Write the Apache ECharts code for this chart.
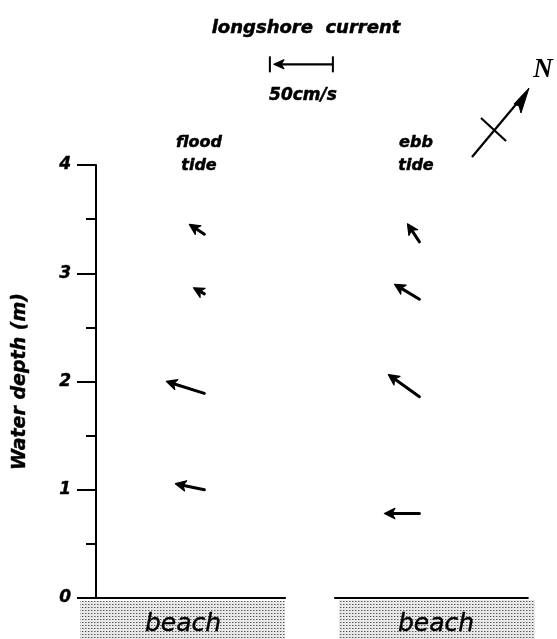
<!DOCTYPE html>
<html>
<head>
<meta charset="utf-8">
<style>
  html, body { margin: 0; padding: 0; background: #fff; }
  #chart { width: 557px; height: 639px; }
</style>
<script src="https://cdn.jsdelivr.net/npm/echarts@6/dist/echarts.min.js"></script>
</head>
<body>
<div id="chart"></div>
<script>
// Depth axis (m)
const depthTicks = [0, 1, 2, 3, 4];

// Flood tide profile: measurement depth (m) and current components (cm/s)
const floodDepth = [3.36, 2.81, 1.89, 1.00];
const floodU = [-11.9, -8.7, -30.2, -23.0];   // longshore (negative = towards left)
const floodV = [7.9, 4.8, 9.5, 4.8];          // cross-shore on the page

// Ebb tide profile
const ebbDepth = [3.29, 2.76, 1.86, 0.78];
const ebbU = [-9.5, -19.8, -24.6, -27.8];
const ebbV = [14.3, 11.9, 17.5, 0.0];

// Reference vector for the speed scale
const scaleSpeed = 50;      // cm/s
const scaleLabel = '50cm/s';

// Horizontal axes share one speed scale (px per cm/s)
const PX_PER_CMS = 1.26;
const floodXRange = [0, 150];
const ebbXRange = [0, 153];
const floodStationX = 86;
const ebbStationX = 67;
const scaleAnchor = [138, 4.93];   // left end of the speed scale, in panel-1 units

const SANS = 'DejaVu Sans, Verdana, sans-serif';
const BOLD_ITALIC = { fontFamily: SANS, fontStyle: 'italic', fontWeight: 'bold' };
const HEAVY = { stroke: '#000', lineWidth: 0.5 };

function arrowShape(x0, y0, x1, y1, headLen, headHalf, lw) {
  const dx = x1 - x0, dy = y1 - y0;
  const L = Math.sqrt(dx * dx + dy * dy) || 1;
  const ux = dx / L, uy = dy / L;
  const bx = x1 - ux * headLen, by = y1 - uy * headLen;
  const px = -uy, py = ux;
  return [
    { type: 'line', shape: { x1: x0, y1: y0, x2: bx + ux * 2, y2: by + uy * 2 },
      style: { stroke: '#000', lineWidth: lw, lineCap: 'round' } },
    { type: 'polygon', shape: { points: [[x1, y1], [bx + px * headHalf, by + py * headHalf], [x1 - ux * headLen * 0.72, y1 - uy * headLen * 0.72], [bx - px * headHalf, by - py * headHalf]] },
      style: { fill: '#000', stroke: '#000', lineWidth: 1.2, lineJoin: 'round' } }
  ];
}

function vectorSeries(idx, stationX, depths, us, vs) {
  return {
    type: 'custom',
    xAxisIndex: idx, yAxisIndex: idx,
    clip: false,
    data: depths.map((d, i) => [stationX, d, us[i], vs[i]]),
    encode: { x: 0, y: 1 },
    renderItem: function (params, api) {
      const tail = api.coord([api.value(0), api.value(1)]);
      const k = api.size([1, 0])[0];
      const head = [tail[0] + api.value(2) * k, tail[1] - api.value(3) * k];
      return { type: 'group', children: arrowShape(tail[0], tail[1], head[0], head[1], 10.5, 5.2, 3) };
    }
  };
}

// Dotted screen used for the beach blocks
function beachPattern() {
  const c = document.createElement('canvas');
  c.width = 3; c.height = 3;
  const g = c.getContext('2d');
  g.fillStyle = '#e8e8e8'; g.fillRect(0, 0, 3, 3);
  g.fillStyle = '#5a5a5a'; g.fillRect(1, 1, 1, 1);
  g.fillStyle = '#a8a8a8'; g.fillRect(2, 1, 1, 1);
  return { image: c, repeat: 'repeat' };
}

const chart = echarts.init(document.getElementById('chart'), null, { renderer: 'canvas' });

const gridTop = 165, gridBottom = 41;
const floodLeft = 96, ebbLeft = 335;

const option = {
  animation: false,
  backgroundColor: '#fff',
  grid: [
    { left: floodLeft, top: gridTop, bottom: gridBottom, width: (floodXRange[1] - floodXRange[0]) * PX_PER_CMS },
    { left: ebbLeft, top: gridTop, bottom: gridBottom, width: (ebbXRange[1] - ebbXRange[0]) * PX_PER_CMS }
  ],
  xAxis: [
    { gridIndex: 0, type: 'value', min: floodXRange[0], max: floodXRange[1],
      axisLine: { show: true, onZero: false, lineStyle: { color: '#000', width: 2.2 } },
      axisTick: { show: false }, axisLabel: { show: false }, splitLine: { show: false } },
    { gridIndex: 1, type: 'value', min: ebbXRange[0], max: ebbXRange[1],
      axisLine: { show: true, onZero: false, lineStyle: { color: '#000', width: 2.2 } },
      axisTick: { show: false }, axisLabel: { show: false }, splitLine: { show: false } }
  ],
  yAxis: [
    { gridIndex: 0, type: 'value', min: depthTicks[0], max: depthTicks[depthTicks.length - 1], interval: 1,
      name: 'Water depth (m)', nameLocation: 'middle', nameRotate: 90, nameGap: 66,
      nameTextStyle: Object.assign({ fontSize: 19, color: '#000', textBorderColor: '#000', textBorderWidth: 0.4 }, BOLD_ITALIC),
      axisLine: { show: true, onZero: false, lineStyle: { color: '#000', width: 2 } },
      axisTick: { show: true, inside: false, length: 19, lineStyle: { color: '#000', width: 2 } },
      minorTick: { show: true, splitNumber: 2, length: 10, lineStyle: { color: '#000', width: 2 } },
      axisLabel: Object.assign({ fontSize: 17, color: '#000', margin: 25, textBorderColor: '#000', textBorderWidth: 0.4 }, BOLD_ITALIC),
      splitLine: { show: false } },
    { gridIndex: 1, type: 'value', min: depthTicks[0], max: depthTicks[depthTicks.length - 1],
      show: false, splitLine: { show: false } }
  ],
  series: [
    vectorSeries(0, floodStationX, floodDepth, floodU, floodV),
    vectorSeries(1, ebbStationX, ebbDepth, ebbU, ebbV),
    {
      // speed scale: end bars and a reference arrow
      type: 'custom', xAxisIndex: 0, yAxisIndex: 0, clip: false,
      data: [[scaleAnchor[0], scaleAnchor[1], scaleSpeed]],
      encode: { x: 0, y: 1 },
      renderItem: function (params, api) {
        const p0 = api.coord([api.value(0), api.value(1)]);
        const p1 = api.coord([api.value(0) + api.value(2), api.value(1)]);
        const children = [
          { type: 'line', shape: { x1: p0[0], y1: p0[1] - 8, x2: p0[0], y2: p0[1] + 8 }, style: { stroke: '#000', lineWidth: 2 } },
          { type: 'line', shape: { x1: p1[0], y1: p1[1] - 8, x2: p1[0], y2: p1[1] + 8 }, style: { stroke: '#000', lineWidth: 2 } }
        ].concat(arrowShape(p1[0], p1[1], p0[0] + 4, p0[1], 10, 4.5, 2.2));
        return { type: 'group', children: children };
      }
    }
  ],
  graphic: [
    { type: 'rect', shape: { x: 80, y: 601, width: 205, height: 40 }, style: { fill: beachPattern() }, z: 1 },
    { type: 'rect', shape: { x: 339, y: 600, width: 196, height: 41 }, style: { fill: beachPattern() }, z: 1 },
    { type: 'text', x: 183, y: 624, z: 10, style: Object.assign({ text: 'beach', fontSize: 25, fontStyle: 'italic', fontFamily: SANS, fill: '#000', align: 'center', verticalAlign: 'middle' }, { stroke: '#000', lineWidth: 0.4 }) },
    { type: 'text', x: 436, y: 624, z: 10, style: Object.assign({ text: 'beach', fontSize: 25, fontStyle: 'italic', fontFamily: SANS, fill: '#000', align: 'center', verticalAlign: 'middle' }, { stroke: '#000', lineWidth: 0.4 }) },
    { type: 'text', x: 306, y: 28, z: 10, style: Object.assign({ text: 'longshore  current', fontSize: 18, fill: '#000', align: 'center', verticalAlign: 'middle' }, BOLD_ITALIC, HEAVY) },
    { type: 'text', x: 303, y: 96, z: 10, style: Object.assign({ text: scaleLabel, fontSize: 17, fill: '#000', align: 'center', verticalAlign: 'middle' }, BOLD_ITALIC, HEAVY) },
    { type: 'text', x: 199, y: 154, z: 10, style: Object.assign({ text: 'flood\ntide', fontSize: 16, lineHeight: 23, fill: '#000', align: 'center', verticalAlign: 'middle' }, BOLD_ITALIC, HEAVY) },
    { type: 'text', x: 416, y: 154, z: 10, style: Object.assign({ text: 'ebb\ntide', fontSize: 16, lineHeight: 23, fill: '#000', align: 'center', verticalAlign: 'middle' }, BOLD_ITALIC, HEAVY) },
    // north arrow
    { type: 'line', shape: { x1: 472, y1: 157, x2: 523, y2: 96 }, style: { stroke: '#000', lineWidth: 2.2 } },
    { type: 'polygon', shape: { points: [[529, 88], [521, 113], [519, 106], [514, 104]] }, style: { fill: '#000', stroke: '#000', lineWidth: 1 } },
    { type: 'line', shape: { x1: 481, y1: 118, x2: 506, y2: 141 }, style: { stroke: '#000', lineWidth: 2.2 } },
    { type: 'text', x: 543, y: 70, z: 10, style: { text: 'N', fontSize: 27, fontStyle: 'italic', fontWeight: 'bold', fontFamily: 'Liberation Serif, Times New Roman, serif', fill: '#000', align: 'center', verticalAlign: 'middle' } }
  ]
};

chart.setOption(option);
</script>
</body>
</html>
